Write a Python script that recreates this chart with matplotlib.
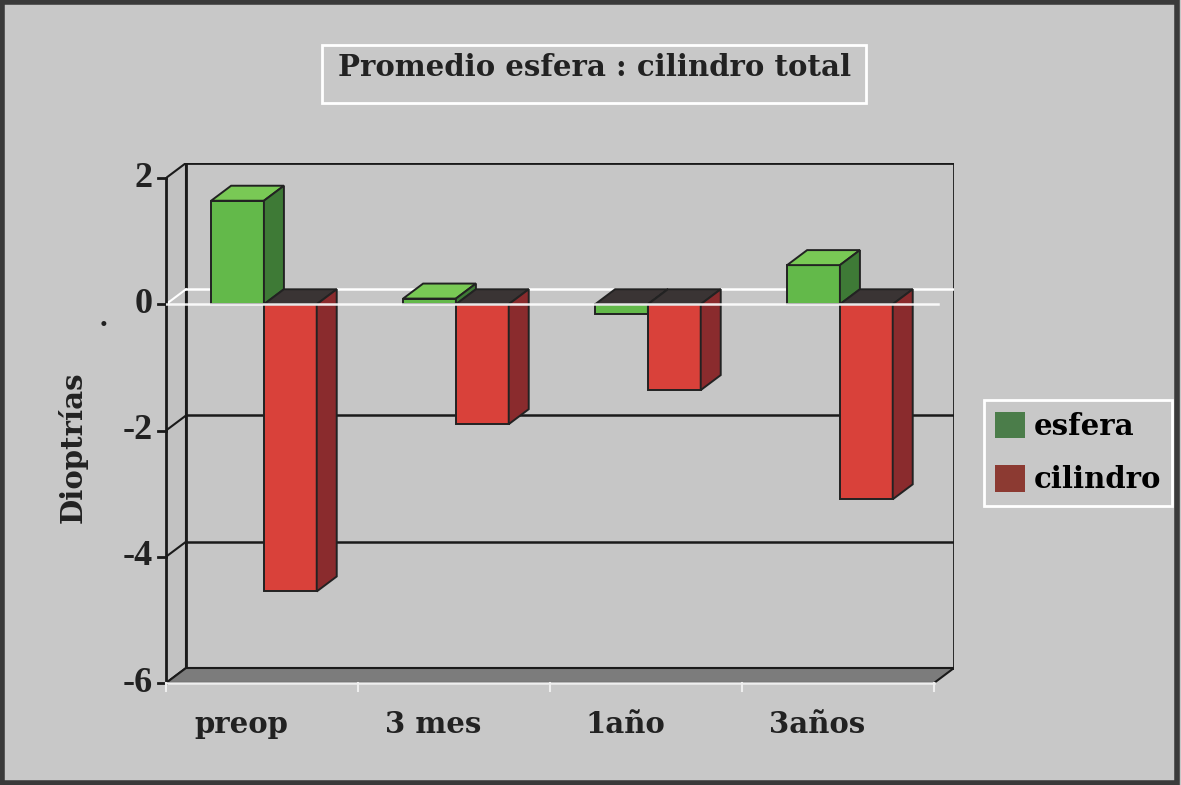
import matplotlib
matplotlib.use('Agg')
import matplotlib.pyplot as plt
from matplotlib.patches import Polygon, Rectangle

categories = ['preop', '3 mes', '1año', '3años']
esfera = [1.64, 0.09, -0.15, 0.62]
cilindro = [-4.55, -1.90, -1.36, -3.09]
yticks = [2, 0, -2, -4, -6]
series_names = ['esfera', 'cilindro']

W, H = 1181, 785
fig = plt.figure(figsize=(W / 100, H / 100), dpi=100)
bg = '#c8c8c8'
fig.patch.set_facecolor(bg)
FONT = 'DejaVu Serif'
TFONT = 'Liberation Serif'
TXT = '#222222'

# depth offsets (data units)
DX = 20 / 192
DY = 15 / 63.1

def fx(px):
    return px / W

def fy(py):
    return 1 - py / H

ax = fig.add_axes([fx(166), fy(683), 788 / W, 520 / H])
ax.set_xlim(0, 4 + DX)
ax.set_ylim(-6, 2 + DY)
ax.axis('off')
ax.patch.set_alpha(0)

ymin, ymax = -6, 2
n = len(categories)

# back wall
ax.add_patch(Rectangle((DX, ymin + DY), n, ymax - ymin, facecolor='#c6c6c6',
                       edgecolor='#1a1a1a', lw=2, zorder=1))
# left wall
ax.add_patch(Polygon([(0, ymin), (DX, ymin + DY), (DX, ymax + DY), (0, ymax)],
                     closed=True, facecolor='#c2c2c2', edgecolor='#1a1a1a', lw=1.5, zorder=1))
# floor
ax.add_patch(Polygon([(0, ymin), (n, ymin), (n + DX, ymin + DY), (DX, ymin + DY)],
                     closed=True, facecolor='#7c7c7c', edgecolor='#1a1a1a', lw=1.5, zorder=2))

# gridlines
for v in yticks:
    if v in (ymin, ymax):
        continue
    col = 'white' if v == 0 else '#1a1a1a'
    ax.plot([DX, n + DX], [v + DY, v + DY], color=col, lw=1.8, zorder=2)
    ax.plot([0, DX], [v, v + DY], color=col, lw=1.5, zorder=2)

# front y axis and ticks
ax.plot([0, 0], [ymin, ymax], color='#1a1a1a', lw=2, zorder=2, clip_on=False)
for v in yticks:
    ax.plot([-0.04, 0], [v, v], color='#1a1a1a', lw=2, zorder=2, clip_on=False)
    ax.text(-0.07, v, str(v), ha='right', va='center',
            fontsize=26, fontweight='bold', family=TFONT, color=TXT)

# front floor edge and category ticks
ax.plot([0, n], [ymin, ymin], color='#eeeeee', lw=1.8, zorder=3, clip_on=False)
for i in range(n + 1):
    ax.plot([i, i], [ymin, ymin - 0.12], color='#eeeeee', lw=1.5, zorder=3, clip_on=False)

esf_cols = ('#63b94a', '#3e7a36', '#79c955')
cil_cols = ('#d9413a', '#8a2b2d', '#3a3434')

def bar3d(x0, w, v, front, side, top_pos, top_neg='#3a3434'):
    lo, hi = min(0, v), max(0, v)
    ec = '#222222'
    ax.add_patch(Rectangle((x0, lo), w, hi - lo, facecolor=front, edgecolor=ec, lw=1.4, zorder=4))
    tc = top_pos if v > 0 else top_neg
    ax.add_patch(Polygon([(x0, hi), (x0 + w, hi), (x0 + w + DX, hi + DY), (x0 + DX, hi + DY)],
                         closed=True, facecolor=tc, edgecolor=ec, lw=1.4, zorder=4))
    ax.add_patch(Polygon([(x0 + w, lo), (x0 + w + DX, lo + DY), (x0 + w + DX, hi + DY), (x0 + w, hi)],
                         closed=True, facecolor=side, edgecolor=ec, lw=1.4, zorder=4))

bw = 0.275
for i in range(n):
    bar3d(i + 0.235, bw, esfera[i], esf_cols[0], esf_cols[1], esf_cols[2])
    bar3d(i + 0.235 + bw, bw, cilindro[i], cil_cols[0], cil_cols[1], cil_cols[2])

# front zero line over the bars
ax.plot([0, n + 0.02], [0, 0], color='white', lw=1.8, zorder=5, alpha=0.9)

# category labels
for i, c in enumerate(categories):
    ax.text(i + 0.39, ymin - 0.66, c, ha='center', va='center', fontsize=21,
            fontweight='bold', family=FONT, color=TXT)

# y label
fig.text(fx(73), fy(447), 'Dioptrías', rotation=90, ha='center', va='center',
         fontsize=21, fontweight='bold', family=FONT, color=TXT)
fig.text(fx(103), fy(318), '.', ha='center', va='center', fontsize=22,
         fontweight='bold', family=TFONT, color=TXT)

# title box
fig.add_artist(Rectangle((fx(322), fy(103)), (866 - 322) / W, (103 - 45) / H,
                         transform=fig.transFigure, facecolor='none', edgecolor='white', lw=2))
fig.text(fx(595), fy(67), 'Promedio esfera : cilindro total', ha='center', va='center',
         fontsize=21, fontweight='bold', family=FONT, color=TXT)

# legend
leg_cols = ['#4b7d4a', '#8c3a32']
handles = [Rectangle((0, 0), 1, 1, facecolor=c, edgecolor='none') for c in leg_cols]
leg = fig.legend(handles, series_names, loc='center', bbox_to_anchor=(fx(1078), fy(453)),
                 frameon=True, facecolor=bg, edgecolor='white', framealpha=1,
                 prop={'family': FONT, 'weight': 'bold', 'size': 21},
                 handlelength=1.0, handleheight=1.0, handletextpad=0.3,
                 borderpad=0.4, labelspacing=0.85, fancybox=False)
leg.get_frame().set_linewidth(2)

# outer frame
fig.add_artist(Rectangle((0.002, 0.003), 0.995, 0.994, transform=fig.transFigure,
                         facecolor='none', edgecolor='#3a3a3a', lw=4))

fig.savefig('out.png', dpi=100, facecolor=bg)
